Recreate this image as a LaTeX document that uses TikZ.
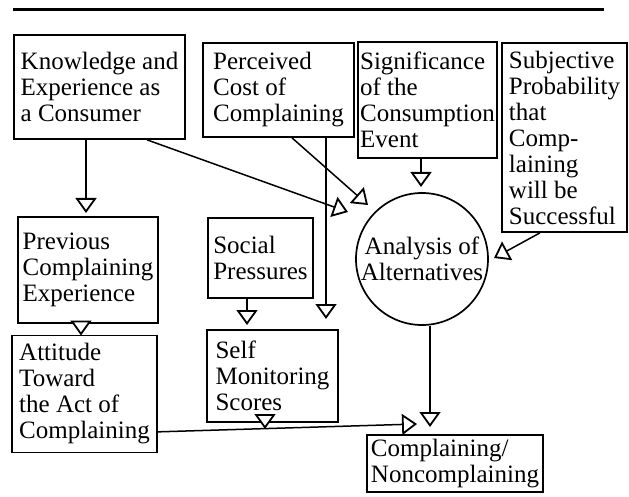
\documentclass[tikz,border=0pt]{standalone}
\usepackage{fontspec}
\setmainfont{Liberation Serif}
\usetikzlibrary{arrows.meta}
\begin{document}
\begin{tikzpicture}[x=1pt,y=-1pt,
  box/.style={draw, line width=1.7pt, align=left, inner sep=0pt,
    font=\fontsize{25}{26}\selectfont},
  arr/.style={line width=1.5pt,
    -{Triangle[length=15pt,width=21pt,fill=white,line width=1.8pt]}},
]
\useasboundingbox (0,0) rectangle (629,497);
\draw[line width=3pt] (13,10) -- (604,10);

\node[box, minimum width=171pt, minimum height=104pt] (know) at (99.5,87)
  {Knowledge and\\Experience as\\a Consumer};
\node[box, minimum width=151pt, minimum height=94pt] (cost) at (278.5,90)
  {Perceived\\Cost of\\Complaining};
\node[box, minimum width=139pt, minimum height=116pt] (sig) at (427.5,100)
  {Significance\\of the\\Consumption\\Event};
\node[box, minimum width=125pt, minimum height=189pt] (subj) at (564.5,137.5)
  {Subjective\\Probability\\that\\Comp-\\laining\\will be\\Successful};
\node[box, minimum width=140pt, minimum height=106pt] (prev) at (88,270)
  {Previous\\Complaining\\Experience};
\node[box, minimum width=105pt, minimum height=80pt] (soc) at (260.5,258)
  {Social\\Pressures};
\node[box, circle, align=center, minimum size=132pt] (ana) at (422,259)
  {Analysis of\\Alternatives};
\node[box, minimum width=145pt, minimum height=117pt] (att) at (84.5,394)
  {Attitude\\Toward\\the Act of\\Complaining};
\node[box, minimum width=131pt, minimum height=92pt] (self) at (272.5,376)
  {Self\\Monitoring\\Scores};
\node[box, minimum width=176pt, minimum height=57pt] (comp) at (455,463.5)
  {Complaining/\\Noncomplaining};

\coordinate (t0) at (86,213);
\coordinate (t1) at (348,212);
\coordinate (t2) at (368,205);
\coordinate (t4) at (326,319);
\coordinate (t5) at (421,187);
\coordinate (t6) at (494,258);
\coordinate (t7) at (81,335.5);
\coordinate (t8) at (247,325);
\coordinate (t9) at (430,427);
\coordinate (t10) at (417,424);
\coordinate (t11) at (265,429);

\draw[arr] ([xshift=-13.5pt]know.south) -- (t0);
\draw[arr] ([xshift=47.5pt]know.south) -- (t1);
\draw[arr] ([xshift=13.5pt]cost.south) -- (t2);
\draw[arr] ([xshift=47.5pt]cost.south) -- (t4);
\draw[arr] ([xshift=-6.5pt]sig.south) -- (t5);
\draw[arr] ([xshift=-24.5pt]subj.south) -- (t6);
\draw[arr] ([xshift=-7pt]prev.south) -- (t7);
\draw[arr] ([xshift=-13.5pt]soc.south) -- (t8);
\draw[arr] ([xshift=8pt]ana.south) -- (t9);
\draw[arr] ([yshift=21.5pt]att.south east) -- (t10);
\draw[arr] ([xshift=-7.5pt,yshift=8pt]self.south) -- (t11);
\end{tikzpicture}
\end{document}
